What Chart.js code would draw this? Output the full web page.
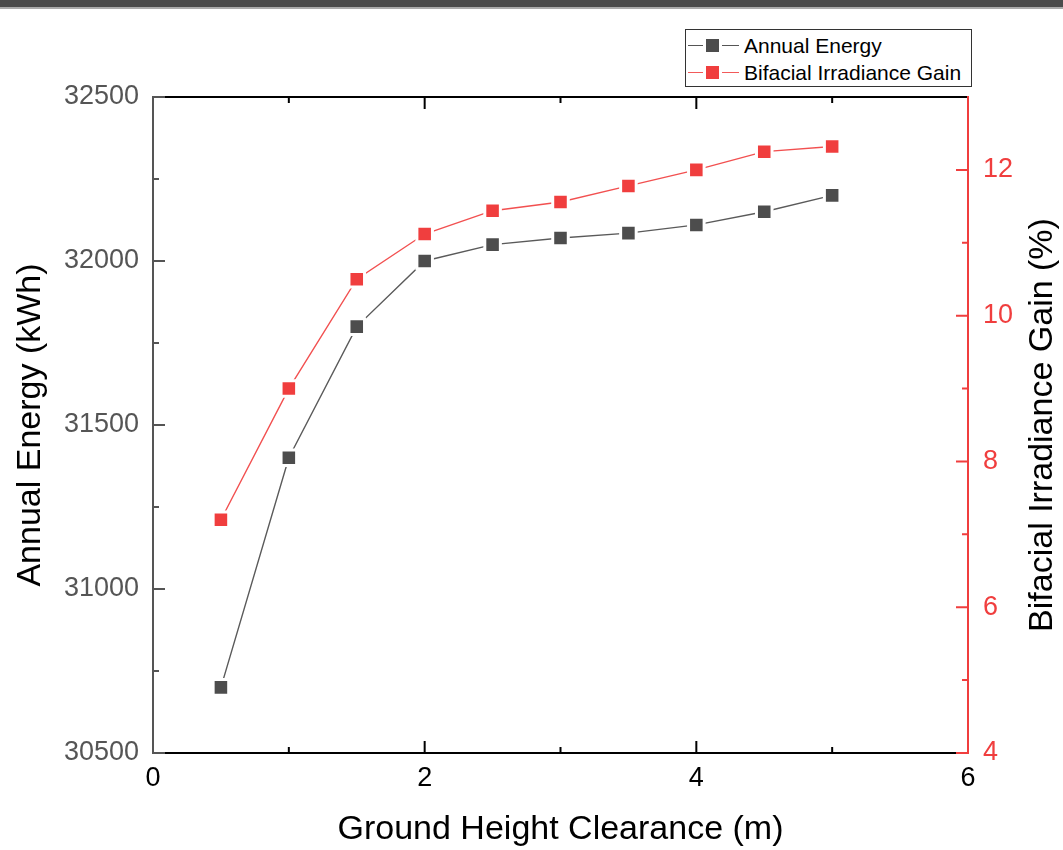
<!DOCTYPE html>
<html>
<head>
<meta charset="utf-8">
<title>Ground Height Clearance</title>
<script src="https://cdn.jsdelivr.net/npm/chart.js@4.4.1/dist/chart.umd.min.js"></script>
<style>
  html, body { margin: 0; padding: 0; background: #fff; }
  #wrap { position: relative; width: 1063px; height: 850px; overflow: hidden; }
  #topbar { position: absolute; left: 0; top: 0; width: 1063px; height: 7px; background: #4b4b4b; border-bottom: 2px solid #ababab; }
  #legend { position: absolute; left: 685px; top: 29px; width: 287px; height: 58px; border: 1px solid #333; box-sizing: border-box; background: #fff;
            font-family: "Liberation Sans", Arial, sans-serif; font-size: 21px; color: #000; }
  .row { position: absolute; left: 0; width: 100%; height: 24px; }
  .row .ln { position: absolute; left: 2px; width: 51px; top: 11px; height: 0; border-top: 1.5px solid; }
  .row .sq { position: absolute; left: 20px; top: 5px; width: 13px; height: 13px; box-shadow: 0 0 0 3px #fff; }
  .row .tx { position: absolute; left: 58px; top: 0; line-height: 24px; white-space: nowrap; }
</style>
</head>
<body>
<div id="wrap">
  <canvas id="chart" width="1063" height="850"></canvas>
  <div id="topbar"></div>
  <div id="legend">
    <div class="row" style="top:4px"><div class="ln" style="border-color:#555"></div><div class="sq" style="background:#4d4d4d"></div><div class="tx">Annual Energy</div></div>
    <div class="row" style="top:31px"><div class="ln" style="border-color:#f25a5a"></div><div class="sq" style="background:#f03e3e"></div><div class="tx">Bifacial Irradiance Gain</div></div>
  </div>
</div>
<script>
// datos
const heights = [0.5, 1, 1.5, 2, 2.5, 3, 3.5, 4, 4.5, 5];
const annualEnergy = [30700, 31400, 31800, 32000, 32050, 32070, 32085, 32110, 32150, 32200];
const irradianceGain = [7.2, 9.0, 10.5, 11.12, 11.44, 11.56, 11.78, 12.0, 12.25, 12.32];

const xTicks = [0, 2, 4, 6];
const energyTicks = [30500, 31000, 31500, 32000, 32500];
const gainTicks = [4, 6, 8, 10, 12];

const FONT = '"Liberation Sans", Arial, sans-serif';
const GRAY = '#555555';
const RED = '#f03e3e';

function mids(arr) {
  const out = [];
  for (let i = 0; i < arr.length - 1; i++) out.push((arr[i] + arr[i + 1]) / 2);
  return out;
}

// ejes con ticks hacia dentro + titulo derecho
const axesPlugin = {
  id: 'axesPlugin',
  afterDraw(chart) {
    const ctx = chart.ctx;
    const a = chart.chartArea;
    const sx = chart.scales.x, sl = chart.scales.y, sr = chart.scales.y1;
    ctx.save();
    ctx.lineWidth = 2;

    // top y bottom
    ctx.strokeStyle = '#000';
    ctx.beginPath();
    ctx.moveTo(a.left, a.top); ctx.lineTo(a.right, a.top);
    ctx.moveTo(a.left, a.bottom); ctx.lineTo(a.right, a.bottom);
    xTicks.forEach(v => {
      const px = sx.getPixelForValue(v);
      ctx.moveTo(px, a.bottom); ctx.lineTo(px, a.bottom - 12);
      ctx.moveTo(px, a.top); ctx.lineTo(px, a.top + 12);
    });
    mids(xTicks).forEach(v => {
      const px = sx.getPixelForValue(v);
      ctx.moveTo(px, a.bottom); ctx.lineTo(px, a.bottom - 6);
      ctx.moveTo(px, a.top); ctx.lineTo(px, a.top + 6);
    });
    ctx.stroke();

    // izquierda
    ctx.strokeStyle = GRAY;
    ctx.beginPath();
    ctx.moveTo(a.left, a.top - 1); ctx.lineTo(a.left, a.bottom + 1);
    energyTicks.forEach(v => {
      const py = sl.getPixelForValue(v);
      ctx.moveTo(a.left, py); ctx.lineTo(a.left + 12, py);
    });
    mids(energyTicks).forEach(v => {
      const py = sl.getPixelForValue(v);
      ctx.moveTo(a.left, py); ctx.lineTo(a.left + 6, py);
    });
    ctx.stroke();

    // derecha
    ctx.strokeStyle = RED;
    ctx.beginPath();
    ctx.moveTo(a.right, a.top - 1); ctx.lineTo(a.right, a.bottom + 1);
    gainTicks.forEach(v => {
      const py = sr.getPixelForValue(v);
      ctx.moveTo(a.right, py); ctx.lineTo(a.right - 12, py);
    });
    mids(gainTicks).forEach(v => {
      const py = sr.getPixelForValue(v);
      ctx.moveTo(a.right, py); ctx.lineTo(a.right - 6, py);
    });
    ctx.stroke();

    // titulo eje derecho (de abajo hacia arriba)
    ctx.translate(1043, (a.top + a.bottom) / 2);
    ctx.rotate(-Math.PI / 2);
    ctx.fillStyle = '#000';
    ctx.font = '34px ' + FONT;
    ctx.textAlign = 'center';
    ctx.textBaseline = 'middle';
    ctx.fillText('Bifacial Irradiance Gain (%)', 0, 0);
    ctx.restore();
  }
};

const ctx = document.getElementById('chart').getContext('2d');

const chart = new Chart(ctx, {
  type: 'line',
  data: {
    datasets: [
      {
        label: 'Annual Energy',
        data: heights.map((h, i) => ({ x: h, y: annualEnergy[i] })),
        yAxisID: 'y',
        borderColor: '#5a5a5a',
        borderWidth: 1.4,
        backgroundColor: '#4d4d4d',
        pointStyle: 'rect',
        pointRadius: 11,
        pointHoverRadius: 11,
        pointBorderColor: '#fff',
        pointBorderWidth: 3,
        tension: 0
      },
      {
        label: 'Bifacial Irradiance Gain',
        data: heights.map((h, i) => ({ x: h, y: irradianceGain[i] })),
        yAxisID: 'y1',
        borderColor: '#f25050',
        borderWidth: 1.4,
        backgroundColor: RED,
        pointStyle: 'rect',
        pointRadius: 11,
        pointHoverRadius: 11,
        pointBorderColor: '#fff',
        pointBorderWidth: 3,
        tension: 0
      }
    ]
  },
  options: {
    responsive: false,
    animation: false,
    layout: { padding: { top: 97, left: 0, right: 0, bottom: 0 } },
    plugins: {
      legend: { display: false },
      tooltip: { enabled: false }
    },
    scales: {
      x: {
        type: 'linear',
        position: 'bottom',
        min: 0,
        max: 6,
        afterBuildTicks: s => { s.ticks = xTicks.map(v => ({ value: v })); },
        afterFit: s => { s.height = 97; },
        grid: { display: false, drawTicks: false },
        border: { display: false },
        ticks: { color: '#000', padding: 9, font: { family: FONT, size: 27 }, maxRotation: 0, callback: v => String(v) },
        title: { display: true, text: 'Ground Height Clearance (m)', color: '#000', padding: { top: 0, bottom: 0 }, font: { family: FONT, size: 34 } }
      },
      y: {
        type: 'linear',
        position: 'left',
        min: 30500,
        max: 32500,
        afterBuildTicks: s => { s.ticks = energyTicks.map(v => ({ value: v })); },
        afterFit: s => { s.width = 153; },
        grid: { display: false, drawTicks: false },
        border: { display: false },
        ticks: { color: GRAY, padding: 14, font: { family: FONT, size: 27 }, callback: v => String(v) },
        title: { display: true, text: 'Annual Energy (kWh)', color: '#000', padding: { top: 10, bottom: 0 }, font: { family: FONT, size: 34 } }
      },
      y1: {
        type: 'linear',
        position: 'right',
        min: 4,
        max: 13,
        afterBuildTicks: s => { s.ticks = gainTicks.map(v => ({ value: v })); },
        afterFit: s => { s.width = 95; },
        grid: { display: false, drawTicks: false },
        border: { display: false },
        ticks: { color: RED, padding: 15, font: { family: FONT, size: 27 }, callback: v => String(v) },
        title: { display: false }
      }
    }
  },
  plugins: [axesPlugin]
});
</script>
</body>
</html>
